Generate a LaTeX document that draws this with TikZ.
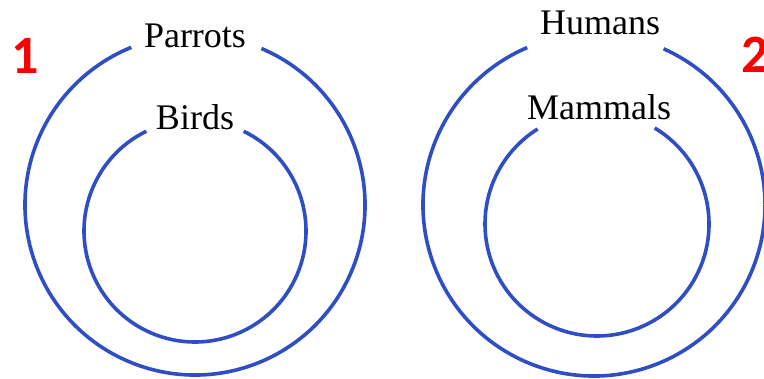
\documentclass[tikz,border=0pt]{standalone}
\usepackage{fontspec}
\setmainfont{Liberation Serif}
\newfontfamily\numfont{Carlito}
\usepackage{xcolor}
\usetikzlibrary{calc}

\definecolor{ringblue}{RGB}{48,78,196}
\definecolor{numred}{RGB}{250,0,0}

\begin{document}
\begin{tikzpicture}[
            x=0.5pt, y=0.5pt, line width=1.8pt,
            % ---- styles ----
            ring/.style = {draw=ringblue, line width=1.8pt},
            setlabel/.style = {anchor=base, inner sep=0pt, font=\fontsize{18}{20}\selectfont},
            casenum/.style = {anchor=base west, inner sep=0pt, text=numred, font=\numfont\bfseries\fontsize{27}{30}\selectfont}
        ]
        \useasboundingbox (0,0) rectangle (764,-379);

        % ===================== case 1 =====================
        \coordinate (pc) at (195,-205);   % centre of Parrots
        \coordinate (bc) at (195,-231);   % centre of Birds
        \draw[ring] (pc) ++(67:170) arc[start angle=67, end angle=-248, radius=170];
        \draw[ring] (bc) ++(64:111) arc[start angle=64, end angle=-244, radius=111];
        \node[setlabel] (parrots) at (195,-48) {Parrots};
        \node[setlabel] (birds) at (195,-130) {Birds};
        \node[casenum] (num1) at (10,-74) {1};

        % ===================== case 2 =====================
        \coordinate (hc) at (594,-205);   % centre of Humans
        \coordinate (mc) at (597,-224);   % centre of Mammals
        \draw[ring] (hc) ++(66:171) arc[start angle=66, end angle=-247, radius=171];
        \draw[ring] (mc) ++(59:112) arc[start angle=59, end angle=-238, radius=112];
        \node[setlabel] (humans) at (600,-35) {Humans};
        \node[setlabel] (mammals) at (599,-120) {Mammals};
        \node[casenum] (num2) at (740,-73) {2};

\end{tikzpicture}
\end{document}
